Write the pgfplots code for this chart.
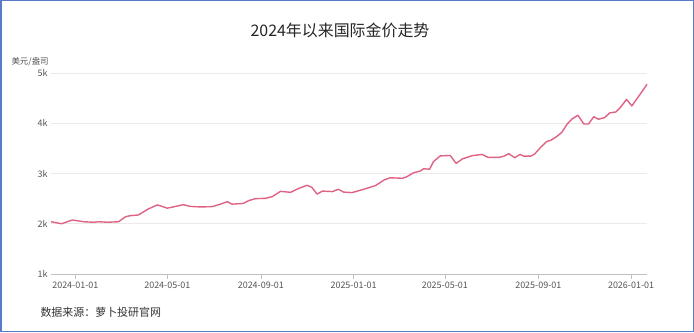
\documentclass[border=0pt]{standalone}
\usepackage{pgfplots}
\pgfplotsset{compat=1.18}
\usepackage{fontspec}
\setmainfont{Noto Sans CJK SC}
\definecolor{linec}{HTML}{E06384}
\definecolor{framec}{HTML}{5A7BC8}
\definecolor{gridc}{HTML}{EAEAEA}
\definecolor{txtc}{HTML}{555555}
\begin{document}
\begin{tikzpicture}[x=1bp,y=1bp]
\useasboundingbox (0,0) rectangle (694,332);
\fill[white] (0,0) rectangle (694,332);
\draw[framec,line width=1.5bp] (0.75,0.75) rectangle (693.25,331.25);
\node[font=\fontsize{16}{18}\selectfont,text=black!85] at (340,302) {2024年以来国际金价走势};
\node[font=\fontsize{8.5}{10}\selectfont,text=txtc,anchor=west] at (8,270) {美元/盎司};
\node[font=\fontsize{11}{13}\selectfont,text=black!80,anchor=west] at (37,20) {数据来源：萝卜投研官网};
\begin{axis}[
  at={(51bp,58bp)}, anchor=south west,
  scale only axis, width=596bp, height=201bp,
  xmin=-32, xmax=752, ymin=1000, ymax=5000,
  axis line style={draw=none},
  ytick={1000,2000,3000,4000,5000},
  yticklabels={1k,2k,3k,4k,5k},
  xtick={0,121,244,366,486,609,731},
  xticklabels={2024-01-01,2024-05-01,2024-09-01,2025-01-01,2025-05-01,2025-09-01,2026-01-01},
  ymajorgrids, grid style={gridc,line width=0.8bp},
  tick label style={font=\fontsize{9}{10}\selectfont,text=txtc},
  xticklabel style={yshift=-4bp},
  /pgf/number format/assume math mode=true,
  major tick length=0pt,
  clip=false,
]
\draw[black!25,line width=0.8bp] (axis cs:-32,1000) -- (axis cs:752,1000);
\foreach \t in {0,121,244,366,486,609,731}{
  \edef\tmp{\noexpand\draw[black!25,line width=0.6bp] (axis cs:\t,1000) -- ++(0pt,-5bp);}\tmp
}
\addplot[linec, line width=1.4bp, line join=round, mark=none] coordinates {
(-32,2040) (-18,2000) (-4,2075) (11,2040) (24,2030) (31,2040) (42,2030) (57,2040)
(66,2140) (72,2160) (83,2175) (96,2295) (108,2375) (121,2310) (129,2335) (142,2380)
(151,2345) (164,2335) (180,2340) (191,2390) (200,2440) (206,2390) (221,2405) (228,2460)
(237,2500) (250,2505) (259,2540) (270,2645) (283,2625) (294,2705) (305,2765) (311,2725)
(318,2590) (325,2650) (338,2640) (346,2685) (353,2630) (364,2620) (379,2685) (395,2760)
(406,2870) (414,2915) (430,2905) (436,2935) (445,3015) (454,3050) (458,3095) (466,3085)
(471,3235) (480,3350) (493,3360) (501,3200) (509,3290) (522,3355) (535,3380) (543,3320)
(557,3320) (564,3345) (570,3395) (578,3315) (585,3380) (590,3345) (599,3345) (604,3385)
(612,3520) (620,3635) (626,3665) (634,3745) (640,3820) (647,3985) (653,4080) (661,4160)
(669,3985) (675,3985) (682,4130) (688,4080) (696,4110) (703,4205) (711,4225) (717,4315)
(725,4475) (732,4345) (741,4535) (752,4775)
};
\end{axis}
\end{tikzpicture}
\end{document}
